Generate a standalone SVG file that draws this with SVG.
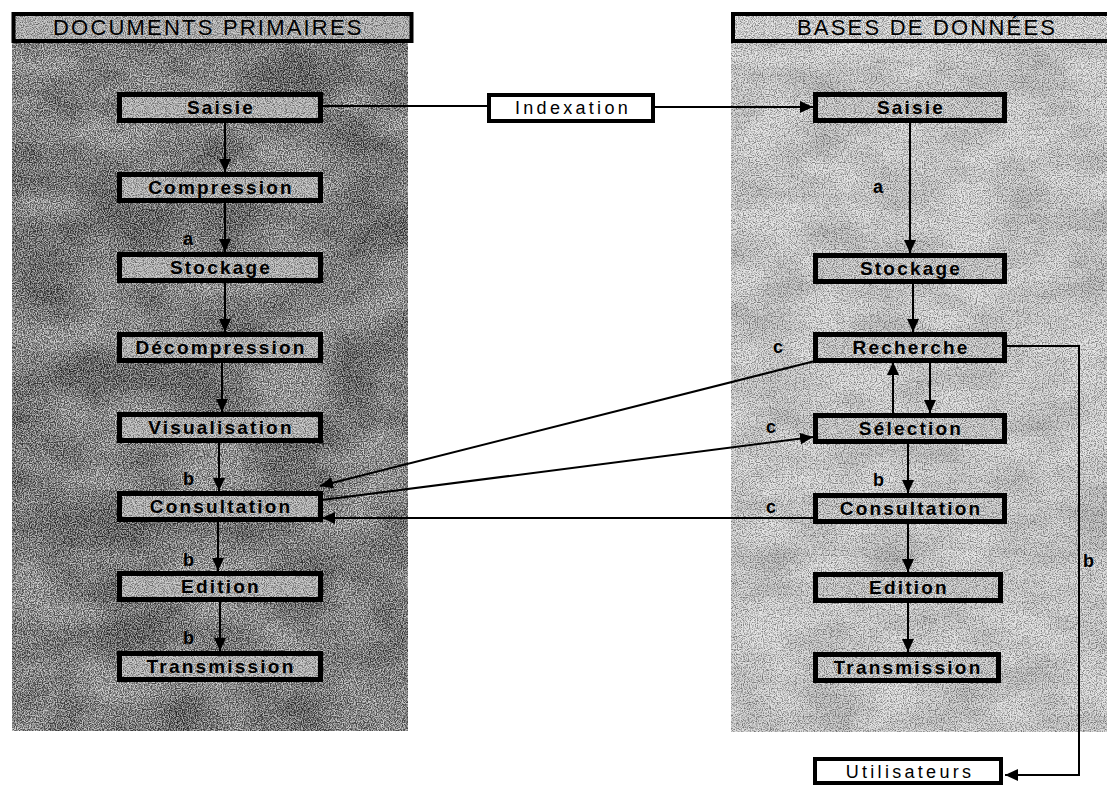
<svg xmlns="http://www.w3.org/2000/svg" width="1107" height="785" viewBox="0 0 1107 785">
<style>
.box{fill:none;stroke:#000;stroke-width:5}
.wbox{fill:#fff;stroke:#000;stroke-width:4}
.t{font-family:"Liberation Sans",Arial,sans-serif;font-size:19px;font-weight:bold;letter-spacing:2.2px;text-anchor:middle;fill:#000}
.tw{font-family:"Liberation Sans",Arial,sans-serif;font-size:18px;letter-spacing:3.3px;text-anchor:middle;fill:#000}
.h{font-family:"Liberation Sans",Arial,sans-serif;font-size:22px;letter-spacing:2.2px;fill:#000}
.lab{font-family:"Liberation Sans",Arial,sans-serif;font-size:18px;font-weight:bold;fill:#000}
.c{fill:none;stroke:#000;stroke-width:2}
</style>
<defs>
<marker id="ah" markerUnits="userSpaceOnUse" markerWidth="13" markerHeight="12" refX="13" refY="6" orient="auto">
<path d="M0,0 L13,6 L0,12 z" fill="#000"/>
</marker>
<filter id="grainDark" x="0" y="0" width="1" height="1" color-interpolation-filters="sRGB">
<feTurbulence type="fractalNoise" baseFrequency="0.85" numOctaves="2" seed="4" result="n"/>
<feColorMatrix in="n" type="matrix" values="3 0 0 0 -1  3 0 0 0 -1  3 0 0 0 -1  0 0 0 0 0.5" result="g"/>
<feTurbulence type="fractalNoise" baseFrequency="0.012 0.02" numOctaves="3" seed="9" result="b"/>
<feColorMatrix in="b" type="matrix" values="2.2 0 0 0 -0.6  2.2 0 0 0 -0.6  2.2 0 0 0 -0.6  0 0 0 0 0.35" result="bg"/>
<feComposite in="g" in2="SourceGraphic" operator="in" result="gi"/>
<feComposite in="bg" in2="SourceGraphic" operator="in" result="bi"/>
<feMerge><feMergeNode in="SourceGraphic"/><feMergeNode in="bi"/><feMergeNode in="gi"/></feMerge>
</filter>
<filter id="grainLight" x="0" y="0" width="1" height="1" color-interpolation-filters="sRGB">
<feTurbulence type="fractalNoise" baseFrequency="0.85" numOctaves="2" seed="11" result="n"/>
<feColorMatrix in="n" type="matrix" values="3 0 0 0 -0.75  3 0 0 0 -0.75  3 0 0 0 -0.75  0 0 0 0 0.4" result="g"/>
<feTurbulence type="fractalNoise" baseFrequency="0.015 0.03" numOctaves="3" seed="5" result="b"/>
<feColorMatrix in="b" type="matrix" values="1.5 0 0 0 0  1.5 0 0 0 0  1.5 0 0 0 0  0 0 0 0 0.25" result="bg"/>
<feComposite in="g" in2="SourceGraphic" operator="in" result="gi"/>
<feComposite in="bg" in2="SourceGraphic" operator="in" result="bi"/>
<feMerge><feMergeNode in="SourceGraphic"/><feMergeNode in="bi"/><feMergeNode in="gi"/></feMerge>
</filter>
<filter id="grainBox" x="0" y="0" width="1" height="1" color-interpolation-filters="sRGB">
<feTurbulence type="fractalNoise" baseFrequency="0.9" numOctaves="2" seed="21" result="n"/>
<feColorMatrix in="n" type="matrix" values="3 0 0 0 -0.8  3 0 0 0 -0.8  3 0 0 0 -0.8  0 0 0 0 0.4" result="g"/>
<feComposite in="g" in2="SourceGraphic" operator="in" result="gi"/>
<feMerge><feMergeNode in="SourceGraphic"/><feMergeNode in="gi"/></feMerge>
</filter>
</defs>

<g id="panel-documents-primaires">
<rect x="12" y="42" width="396" height="689" fill="#777" filter="url(#grainDark)"/>
<rect x="13.5" y="14" width="398" height="27" fill="#a6a6a6" filter="url(#grainBox)"/>
<rect x="13.5" y="14" width="398" height="27" fill="none" stroke="#000" stroke-width="4"/>
<text class="h" x="53" y="35">DOCUMENTS PRIMAIRES</text>
</g>

<g id="panel-bases-de-donnees">
<rect x="731" y="42" width="376" height="690" fill="#c9c9c9" filter="url(#grainLight)"/>
<rect x="733" y="14" width="380" height="27" fill="#d6d6d6" filter="url(#grainBox)"/>
<rect x="733" y="14" width="380" height="27" fill="none" stroke="#000" stroke-width="4"/>
<text class="h" x="797" y="35">BASES DE DONNÉES</text>
</g>

<g id="connectors">
<line class="c" x1="225" y1="123" x2="225" y2="172" marker-end="url(#ah)"/>
<line class="c" x1="225" y1="203" x2="225" y2="252" marker-end="url(#ah)"/>
<line class="c" x1="225" y1="283" x2="225" y2="332" marker-end="url(#ah)"/>
<line class="c" x1="222" y1="363" x2="222" y2="412" marker-end="url(#ah)"/>
<line class="c" x1="219" y1="443" x2="219" y2="491" marker-end="url(#ah)"/>
<line class="c" x1="218" y1="522" x2="218" y2="571" marker-end="url(#ah)"/>
<line class="c" x1="220" y1="602" x2="220" y2="651" marker-end="url(#ah)"/>
<line class="c" x1="323" y1="106" x2="487" y2="106"/>
<line class="c" x1="655" y1="107" x2="813" y2="107" marker-end="url(#ah)"/>
<line class="c" x1="910" y1="123" x2="910" y2="253" marker-end="url(#ah)"/>
<line class="c" x1="913" y1="284" x2="913" y2="332" marker-end="url(#ah)"/>
<line class="c" x1="930" y1="362" x2="930" y2="413" marker-end="url(#ah)"/>
<line class="c" x1="893" y1="413" x2="893" y2="362" marker-end="url(#ah)"/>
<line class="c" x1="908" y1="443" x2="908" y2="493" marker-end="url(#ah)"/>
<line class="c" x1="908" y1="523" x2="908" y2="572" marker-end="url(#ah)"/>
<line class="c" x1="908" y1="602" x2="908" y2="652" marker-end="url(#ah)"/>
<polyline class="c" points="1007,346 1079,346 1079,775 1005,775" marker-end="url(#ah)"/>
<line class="c" x1="815" y1="361" x2="320" y2="486" marker-end="url(#ah)"/>
<line class="c" x1="322" y1="500" x2="813" y2="437" marker-end="url(#ah)"/>
<line class="c" x1="813" y1="518" x2="322" y2="518" marker-end="url(#ah)"/>
<text class="lab" x="183" y="245">a</text>
<text class="lab" x="183" y="485">b</text>
<text class="lab" x="183" y="566">b</text>
<text class="lab" x="183" y="644">b</text>
<text class="lab" x="873" y="193">a</text>
<text class="lab" x="873" y="486">b</text>
<text class="lab" x="1083" y="567">b</text>
<text class="lab" x="773" y="353">c</text>
<text class="lab" x="766" y="433">c</text>
<text class="lab" x="766" y="513">c</text>
</g>

<g id="l-saisie"><rect x="119.5" y="94.5" width="201" height="26" fill="#a8a8a8" filter="url(#grainBox)"/><rect class="box" x="119.5" y="94.5" width="201" height="26"/><text class="t" x="221" y="114">Saisie</text></g>
<g id="l-compression"><rect x="119.5" y="174.5" width="201" height="26" fill="#a8a8a8" filter="url(#grainBox)"/><rect class="box" x="119.5" y="174.5" width="201" height="26"/><text class="t" x="221" y="194">Compression</text></g>
<g id="l-stockage"><rect x="119.5" y="254.5" width="201" height="26" fill="#a8a8a8" filter="url(#grainBox)"/><rect class="box" x="119.5" y="254.5" width="201" height="26"/><text class="t" x="221" y="274">Stockage</text></g>
<g id="l-decompression"><rect x="119.5" y="334.5" width="201" height="26" fill="#a8a8a8" filter="url(#grainBox)"/><rect class="box" x="119.5" y="334.5" width="201" height="26"/><text class="t" x="221" y="354">Décompression</text></g>
<g id="l-visualisation"><rect x="119.5" y="414.5" width="201" height="26" fill="#a8a8a8" filter="url(#grainBox)"/><rect class="box" x="119.5" y="414.5" width="201" height="26"/><text class="t" x="221" y="434">Visualisation</text></g>
<g id="l-consultation"><rect x="119.5" y="493.5" width="201" height="26" fill="#a8a8a8" filter="url(#grainBox)"/><rect class="box" x="119.5" y="493.5" width="201" height="26"/><text class="t" x="221" y="513">Consultation</text></g>
<g id="l-edition"><rect x="119.5" y="573.5" width="201" height="26" fill="#a8a8a8" filter="url(#grainBox)"/><rect class="box" x="119.5" y="573.5" width="201" height="26"/><text class="t" x="221" y="593">Edition</text></g>
<g id="l-transmission"><rect x="119.5" y="653.5" width="201" height="26" fill="#a8a8a8" filter="url(#grainBox)"/><rect class="box" x="119.5" y="653.5" width="201" height="26"/><text class="t" x="221" y="673">Transmission</text></g>

<g id="indexation"><rect class="wbox" x="489" y="95" width="164" height="26"/><text class="tw" x="573" y="114">Indexation</text></g>

<g id="r-saisie"><rect x="815.5" y="94.5" width="189" height="26" fill="#c4c4c4" filter="url(#grainBox)"/><rect class="box" x="815.5" y="94.5" width="189" height="26"/><text class="t" x="911" y="114">Saisie</text></g>
<g id="r-stockage"><rect x="815.5" y="255.5" width="189" height="26" fill="#c4c4c4" filter="url(#grainBox)"/><rect class="box" x="815.5" y="255.5" width="189" height="26"/><text class="t" x="911" y="275">Stockage</text></g>
<g id="r-recherche"><rect x="815.5" y="334.5" width="189" height="26" fill="#c4c4c4" filter="url(#grainBox)"/><rect class="box" x="815.5" y="334.5" width="189" height="26"/><text class="t" x="911" y="354">Recherche</text></g>
<g id="r-selection"><rect x="815.5" y="415.5" width="189" height="26" fill="#c4c4c4" filter="url(#grainBox)"/><rect class="box" x="815.5" y="415.5" width="189" height="26"/><text class="t" x="911" y="435">Sélection</text></g>
<g id="r-consultation"><rect x="815.5" y="495.5" width="189" height="26" fill="#c4c4c4" filter="url(#grainBox)"/><rect class="box" x="815.5" y="495.5" width="189" height="26"/><text class="t" x="911" y="515">Consultation</text></g>
<g id="r-edition"><rect x="815.5" y="574.5" width="185" height="26" fill="#c4c4c4" filter="url(#grainBox)"/><rect class="box" x="815.5" y="574.5" width="185" height="26"/><text class="t" x="909" y="594">Edition</text></g>
<g id="r-transmission"><rect x="815.5" y="654.5" width="183" height="26" fill="#c4c4c4" filter="url(#grainBox)"/><rect class="box" x="815.5" y="654.5" width="183" height="26"/><text class="t" x="908" y="674">Transmission</text></g>

<g id="utilisateurs"><rect class="wbox" x="815" y="759" width="186" height="24"/><text class="tw" x="910" y="778">Utilisateurs</text></g>
</svg>
